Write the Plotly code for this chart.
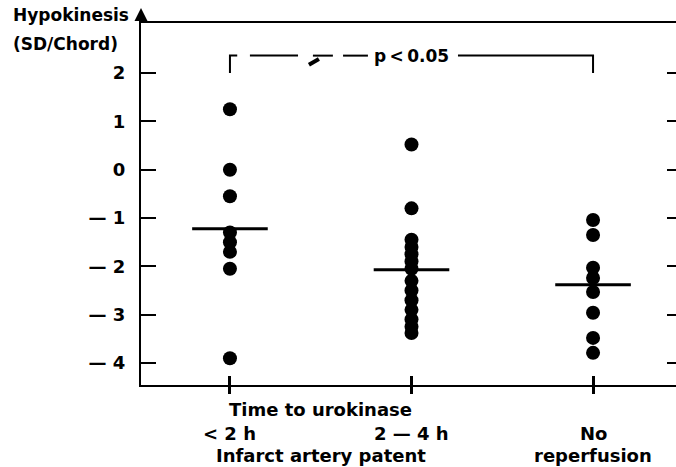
import plotly.graph_objects as go

# Hypokinesis (SD/chord) per patient, grouped by reperfusion status
group_positions = [0, 1, 2]
lt2h_values = [1.25, 0.0, -0.55, -1.3, -1.5, -1.7, -2.05, -3.9]
h2to4_values = [0.52, -0.8, -1.45, -1.6, -1.75, -1.9, -2.05, -2.3, -2.5,
                -2.7, -2.9, -3.1, -3.25, -3.38]
noreperf_values = [-1.04, -1.35, -2.03, -2.24, -2.53, -2.96, -3.48, -3.79]
group_means = [-1.22, -2.07, -2.38]

y_tick_vals = [-4, -3, -2, -1, 0, 1, 2]
y_tick_text = ["— 4", "— 3", "— 2", "— 1", "0", "1", "2"]

FONT = "DejaVu Sans"
W, H = 676, 467
ML, MT, MB, MR = 141, 23, 82, 0
PW, PH = W - ML - MR, H - MT - MB


def px_x(px):
    return (px - ML) / PW


def px_y(py):
    return (H - MB - py) / PH


fig = go.Figure()

for pos, vals in zip(group_positions, [lt2h_values, h2to4_values, noreperf_values]):
    fig.add_trace(go.Scatter(
        x=[pos] * len(vals), y=vals, mode="markers",
        marker=dict(size=14, color="black", line=dict(width=0)),
        showlegend=False, hoverinfo="y",
    ))

# group mean bars
fig.add_trace(go.Scatter(
    x=group_positions, y=group_means, mode="markers",
    marker=dict(symbol="line-ew", size=54, line=dict(width=3, color="black")),
    showlegend=False, hoverinfo="y",
))

# empty trace so the overlay axes (right ticks, inner bottom ticks) render
fig.add_trace(go.Scatter(x=[], y=[], xaxis="x2", yaxis="y2", showlegend=False))

x_range = [-0.49, 2.457]
y_range = [-4.455, 3.035]

fig.update_layout(
    width=W, height=H,
    margin=dict(l=ML, r=MR, t=MT, b=MB),
    paper_bgcolor="white", plot_bgcolor="white",
    font=dict(family=FONT, size=17, color="black"),
    xaxis=dict(
        range=x_range, showgrid=False, zeroline=False,
        showline=True, linecolor="black", linewidth=2, mirror=True,
        tickvals=group_positions, ticktext=["", "", ""],
        ticks="outside", ticklen=7, tickwidth=3, tickcolor="black",
    ),
    xaxis2=dict(
        range=x_range, overlaying="x", anchor="y2", side="bottom",
        showgrid=False, zeroline=False, showline=False,
        tickvals=group_positions, showticklabels=False,
        ticks="inside", ticklen=9, tickwidth=3, tickcolor="black",
    ),
    yaxis=dict(
        range=y_range, showgrid=False, zeroline=False,
        showline=True, linecolor="black", linewidth=2,
        tickvals=y_tick_vals, ticktext=y_tick_text,
        ticks="inside", ticklen=15, tickwidth=2, tickcolor="black",
        ticklabelstandoff=10,
        tickfont=dict(family=FONT, size=18, color="black", weight="bold"),
    ),
    yaxis2=dict(
        range=y_range, overlaying="y", side="right", anchor="x2",
        showgrid=False, zeroline=False, showline=False,
        tickvals=y_tick_vals, showticklabels=False,
        ticks="inside", ticklen=9, tickwidth=2, tickcolor="black",
    ),
)

bold = dict(family=FONT, size=17, color="black", weight="bold")
bold_lg = dict(family=FONT, size=18, color="black", weight="bold")

# y-axis arrowhead above the plot frame
fig.add_annotation(
    x=0, y=px_y(8), xref="paper", yref="paper", text="",
    showarrow=True, ax=0, ay=16, arrowhead=2, arrowsize=1.3,
    arrowwidth=2, arrowcolor="black",
)

# axis title
fig.add_annotation(x=px_x(11), y=px_y(15), xref="paper", yref="paper",
                   text="Hypokinesis", showarrow=False, xanchor="left",
                   yanchor="middle", font=bold)
fig.add_annotation(x=px_x(11), y=px_y(44), xref="paper", yref="paper",
                   text="(SD/Chord)", showarrow=False, xanchor="left",
                   yanchor="middle", font=bold)

# category labels beneath the axis
cat_labels = [
    (0.5, 409, "Time to urokinase"),
    (0, 433, "< 2 h"),
    (1, 433, "2 — 4 h"),
    (2, 433, "No"),
    (0.5, 455, "Infarct artery patent"),
    (2, 455, "reperfusion"),
]
for xv, py, txt in cat_labels:
    fig.add_annotation(x=xv, y=px_y(py), xref="x", yref="paper", text=txt,
                       showarrow=False, xanchor="center", yanchor="middle",
                       font=bold_lg)

# significance bracket between "< 2 h" and "No reperfusion"
br_y, br_foot = 2.36, 2.0
line_style = dict(color="black", width=2)
fig.add_shape(type="path", path=f"M 0.04 {br_y} L 0.0 {br_y} L 0.0 {br_foot}",
              line=line_style, xref="x", yref="y")
for x0, x1 in [(0.11, 0.375), (0.457, 0.567), (0.623, 0.76)]:
    fig.add_shape(type="line", x0=x0, x1=x1, y0=br_y, y1=br_y,
                  line=line_style, xref="x", yref="y")
fig.add_shape(type="line", x0=0.435, x1=0.49, y0=2.17, y1=2.29,
              line=dict(color="black", width=4), xref="x", yref="y")
fig.add_shape(type="path", path=f"M 1.256 {br_y} L 2.0 {br_y} L 2.0 {br_foot}",
              line=line_style, xref="x", yref="y")
fig.add_annotation(x=1.0, y=br_y, xref="x", yref="y",
                   text="p\u2009<\u20090.05", showarrow=False,
                   xanchor="center", yanchor="middle", font=bold)

fig.write_html("out.html")
